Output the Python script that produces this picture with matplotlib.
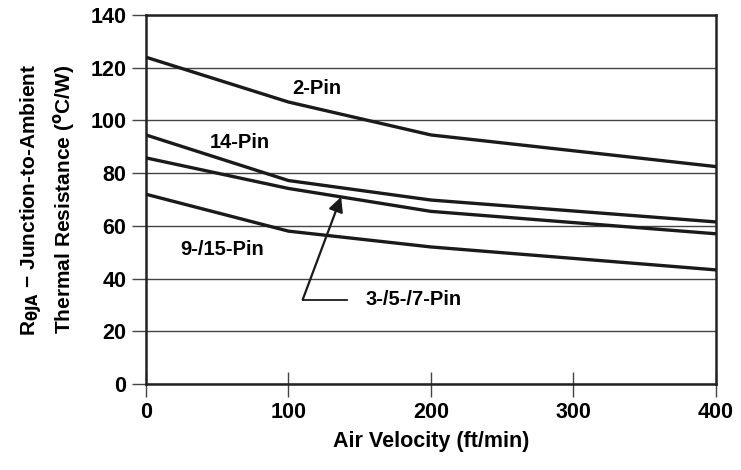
import matplotlib.pyplot as plt

plt.rcParams['font.family'] = ['Liberation Sans', 'DejaVu Sans']
plt.rcParams['font.weight'] = 'bold'

air_velocity = [0, 100, 200, 400]
pin2 = [124, 107, 94.5, 82.5]
pin14 = [94.5, 77.2, 69.8, 61.5]
pin357 = [85.8, 74.2, 65.5, 57]
pin915 = [72, 58, 52, 43.3]

series = [pin2, pin14, pin357, pin915]

fig = plt.figure(figsize=(7.41, 4.70), dpi=100)
ax = fig.add_axes([0.197, 0.183, 0.769, 0.785])

for vals in series:
    ax.plot(air_velocity, vals, color='#1a1a1a', lw=2.4, solid_joinstyle='round', zorder=3)

ax.set_xlim(0, 400)
ax.set_ylim(0, 140)
ax.set_xticks([0, 100, 200, 300, 400])
ax.set_yticks(range(0, 141, 20))
ax.yaxis.grid(True, color='#444444', lw=1.0)
ax.set_axisbelow(True)

for s in ax.spines.values():
    s.set_linewidth(1.8)
    s.set_color('#222222')

ax.tick_params(axis='x', direction='inout', length=18, width=1.0, colors='#444444',
               labelcolor='black', labelsize=15.5, pad=4)
ax.tick_params(axis='y', direction='out', length=10, width=1.0, colors='#444444',
               labelcolor='black', labelsize=15.5, pad=4)
for lbl in ax.get_xticklabels() + ax.get_yticklabels():
    lbl.set_fontweight('bold')

ax.set_xlabel('Air Velocity (ft/min)', fontsize=15.5, fontweight='bold', labelpad=6)
ax.set_ylabel('R$_{\\mathbf{\\theta JA}}$ \u2212 Junction-to-Ambient\nThermal Resistance ($^{\\mathbf{o}}$C/W)',
              fontsize=15, fontweight='bold', labelpad=10, linespacing=1.35)

ax.text(103, 112, '2-Pin', fontsize=14.5, fontweight='bold', ha='left', va='center')
ax.text(45, 91.5, '14-Pin', fontsize=14.5, fontweight='bold', ha='left', va='center')
ax.text(24, 51, '9-/15-Pin', fontsize=14.5, fontweight='bold', ha='left', va='center')
ax.text(154, 32, '3-/5-/7-Pin', fontsize=14.5, fontweight='bold', ha='left', va='center')

ax.plot([110, 141], [32, 32], color='#1a1a1a', lw=1.3)
ax.annotate('', xy=(137, 71), xytext=(110, 32),
            arrowprops=dict(arrowstyle='-|>', color='#1a1a1a', lw=1.6,
                            mutation_scale=22, shrinkA=0, shrinkB=0))

fig.savefig('out.png', dpi=100)
